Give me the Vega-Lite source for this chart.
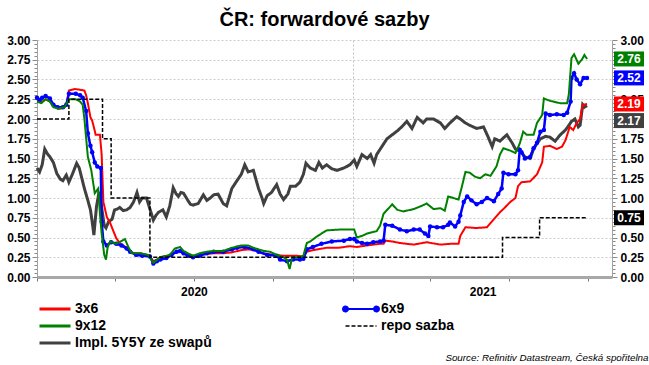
{
"$schema": "https://vega.github.io/schema/vega-lite/v6.json",
"autosize": {"type": "none"},
"padding": {"left": 37, "top": 40, "right": 37, "bottom": 88},
"width": 575,
"height": 237,
"background": "white",
"title": {"text": "ČR: forwardové sazby", "font": "Liberation Sans", "fontSize": 20, "fontWeight": "bold", "color": "#000000", "anchor": "middle", "frame": "group", "baseline": "alphabetic", "offset": 5, "dy": 17},
"datasets": {"rates": [
{"d":"2020-01-01","s":"Impl. 5Y5Y ze swapů","v":1.38},{"d":"2020-01-04","s":"Impl. 5Y5Y ze swapů","v":1.33},{"d":"2020-01-07","s":"Impl. 5Y5Y ze swapů","v":1.42},{"d":"2020-01-10","s":"Impl. 5Y5Y ze swapů","v":1.62},{"d":"2020-01-13","s":"Impl. 5Y5Y ze swapů","v":1.56},{"d":"2020-01-16","s":"Impl. 5Y5Y ze swapů","v":1.52},{"d":"2020-01-20","s":"Impl. 5Y5Y ze swapů","v":1.45},{"d":"2020-01-24","s":"Impl. 5Y5Y ze swapů","v":1.31},{"d":"2020-01-28","s":"Impl. 5Y5Y ze swapů","v":1.24},{"d":"2020-01-31","s":"Impl. 5Y5Y ze swapů","v":1.22},{"d":"2020-02-04","s":"Impl. 5Y5Y ze swapů","v":1.29},{"d":"2020-02-07","s":"Impl. 5Y5Y ze swapů","v":1.20},{"d":"2020-02-11","s":"Impl. 5Y5Y ze swapů","v":1.30},{"d":"2020-02-16","s":"Impl. 5Y5Y ze swapů","v":1.44},{"d":"2020-02-19","s":"Impl. 5Y5Y ze swapů","v":1.38},{"d":"2020-02-22","s":"Impl. 5Y5Y ze swapů","v":1.25},{"d":"2020-02-25","s":"Impl. 5Y5Y ze swapů","v":1.12},{"d":"2020-02-29","s":"Impl. 5Y5Y ze swapů","v":0.97},{"d":"2020-03-03","s":"Impl. 5Y5Y ze swapů","v":0.85},{"d":"2020-03-05","s":"Impl. 5Y5Y ze swapů","v":0.70},{"d":"2020-03-07","s":"Impl. 5Y5Y ze swapů","v":0.53},{"d":"2020-03-10","s":"Impl. 5Y5Y ze swapů","v":0.89},{"d":"2020-03-13","s":"Impl. 5Y5Y ze swapů","v":1.08},{"d":"2020-03-16","s":"Impl. 5Y5Y ze swapů","v":0.88},{"d":"2020-03-19","s":"Impl. 5Y5Y ze swapů","v":0.65},{"d":"2020-03-21","s":"Impl. 5Y5Y ze swapů","v":0.62},{"d":"2020-03-24","s":"Impl. 5Y5Y ze swapů","v":0.70},{"d":"2020-03-28","s":"Impl. 5Y5Y ze swapů","v":0.73},{"d":"2020-03-31","s":"Impl. 5Y5Y ze swapů","v":0.85},{"d":"2020-04-03","s":"Impl. 5Y5Y ze swapů","v":0.86},{"d":"2020-04-06","s":"Impl. 5Y5Y ze swapů","v":0.88},{"d":"2020-04-10","s":"Impl. 5Y5Y ze swapů","v":0.84},{"d":"2020-04-14","s":"Impl. 5Y5Y ze swapů","v":0.85},{"d":"2020-04-18","s":"Impl. 5Y5Y ze swapů","v":0.88},{"d":"2020-04-22","s":"Impl. 5Y5Y ze swapů","v":0.95},{"d":"2020-04-26","s":"Impl. 5Y5Y ze swapů","v":1.07},{"d":"2020-04-29","s":"Impl. 5Y5Y ze swapů","v":0.95},{"d":"2020-05-02","s":"Impl. 5Y5Y ze swapů","v":1.00},{"d":"2020-05-07","s":"Impl. 5Y5Y ze swapů","v":1.00},{"d":"2020-05-11","s":"Impl. 5Y5Y ze swapů","v":0.86},{"d":"2020-05-15","s":"Impl. 5Y5Y ze swapů","v":0.72},{"d":"2020-05-18","s":"Impl. 5Y5Y ze swapů","v":0.78},{"d":"2020-05-21","s":"Impl. 5Y5Y ze swapů","v":0.82},{"d":"2020-05-26","s":"Impl. 5Y5Y ze swapů","v":0.85},{"d":"2020-05-30","s":"Impl. 5Y5Y ze swapů","v":0.76},{"d":"2020-06-03","s":"Impl. 5Y5Y ze swapů","v":0.90},{"d":"2020-06-07","s":"Impl. 5Y5Y ze swapů","v":1.13},{"d":"2020-06-10","s":"Impl. 5Y5Y ze swapů","v":1.06},{"d":"2020-06-13","s":"Impl. 5Y5Y ze swapů","v":1.02},{"d":"2020-06-16","s":"Impl. 5Y5Y ze swapů","v":1.07},{"d":"2020-06-19","s":"Impl. 5Y5Y ze swapů","v":1.06},{"d":"2020-06-24","s":"Impl. 5Y5Y ze swapů","v":0.97},{"d":"2020-06-27","s":"Impl. 5Y5Y ze swapů","v":0.92},{"d":"2020-06-30","s":"Impl. 5Y5Y ze swapů","v":0.91},{"d":"2020-07-06","s":"Impl. 5Y5Y ze swapů","v":0.93},{"d":"2020-07-12","s":"Impl. 5Y5Y ze swapů","v":1.04},{"d":"2020-07-16","s":"Impl. 5Y5Y ze swapů","v":0.97},{"d":"2020-07-20","s":"Impl. 5Y5Y ze swapů","v":1.00},{"d":"2020-07-24","s":"Impl. 5Y5Y ze swapů","v":1.04},{"d":"2020-07-29","s":"Impl. 5Y5Y ze swapů","v":1.05},{"d":"2020-08-04","s":"Impl. 5Y5Y ze swapů","v":0.93},{"d":"2020-08-08","s":"Impl. 5Y5Y ze swapů","v":0.90},{"d":"2020-08-14","s":"Impl. 5Y5Y ze swapů","v":1.12},{"d":"2020-08-20","s":"Impl. 5Y5Y ze swapů","v":1.22},{"d":"2020-08-25","s":"Impl. 5Y5Y ze swapů","v":1.30},{"d":"2020-08-29","s":"Impl. 5Y5Y ze swapů","v":1.42},{"d":"2020-09-02","s":"Impl. 5Y5Y ze swapů","v":1.33},{"d":"2020-09-08","s":"Impl. 5Y5Y ze swapů","v":1.35},{"d":"2020-09-14","s":"Impl. 5Y5Y ze swapů","v":1.12},{"d":"2020-09-18","s":"Impl. 5Y5Y ze swapů","v":1.00},{"d":"2020-09-20","s":"Impl. 5Y5Y ze swapů","v":0.93},{"d":"2020-09-24","s":"Impl. 5Y5Y ze swapů","v":1.03},{"d":"2020-09-29","s":"Impl. 5Y5Y ze swapů","v":1.07},{"d":"2020-10-05","s":"Impl. 5Y5Y ze swapů","v":1.17},{"d":"2020-10-09","s":"Impl. 5Y5Y ze swapů","v":1.05},{"d":"2020-10-13","s":"Impl. 5Y5Y ze swapů","v":0.98},{"d":"2020-10-18","s":"Impl. 5Y5Y ze swapů","v":1.05},{"d":"2020-10-21","s":"Impl. 5Y5Y ze swapů","v":1.15},{"d":"2020-10-27","s":"Impl. 5Y5Y ze swapů","v":1.15},{"d":"2020-11-01","s":"Impl. 5Y5Y ze swapů","v":1.20},{"d":"2020-11-05","s":"Impl. 5Y5Y ze swapů","v":1.30},{"d":"2020-11-08","s":"Impl. 5Y5Y ze swapů","v":1.44},{"d":"2020-11-13","s":"Impl. 5Y5Y ze swapů","v":1.38},{"d":"2020-11-19","s":"Impl. 5Y5Y ze swapů","v":1.35},{"d":"2020-11-23","s":"Impl. 5Y5Y ze swapů","v":1.45},{"d":"2020-11-27","s":"Impl. 5Y5Y ze swapů","v":1.38},{"d":"2020-12-02","s":"Impl. 5Y5Y ze swapů","v":1.42},{"d":"2020-12-08","s":"Impl. 5Y5Y ze swapů","v":1.37},{"d":"2020-12-14","s":"Impl. 5Y5Y ze swapů","v":1.35},{"d":"2020-12-22","s":"Impl. 5Y5Y ze swapů","v":1.38},{"d":"2020-12-29","s":"Impl. 5Y5Y ze swapů","v":1.42},{"d":"2021-01-03","s":"Impl. 5Y5Y ze swapů","v":1.48},{"d":"2021-01-06","s":"Impl. 5Y5Y ze swapů","v":1.40},{"d":"2021-01-12","s":"Impl. 5Y5Y ze swapů","v":1.55},{"d":"2021-01-18","s":"Impl. 5Y5Y ze swapů","v":1.50},{"d":"2021-01-22","s":"Impl. 5Y5Y ze swapů","v":1.55},{"d":"2021-01-26","s":"Impl. 5Y5Y ze swapů","v":1.44},{"d":"2021-01-29","s":"Impl. 5Y5Y ze swapů","v":1.55},{"d":"2021-02-04","s":"Impl. 5Y5Y ze swapů","v":1.65},{"d":"2021-02-10","s":"Impl. 5Y5Y ze swapů","v":1.75},{"d":"2021-02-16","s":"Impl. 5Y5Y ze swapů","v":1.80},{"d":"2021-02-22","s":"Impl. 5Y5Y ze swapů","v":1.85},{"d":"2021-02-27","s":"Impl. 5Y5Y ze swapů","v":1.90},{"d":"2021-03-05","s":"Impl. 5Y5Y ze swapů","v":1.97},{"d":"2021-03-11","s":"Impl. 5Y5Y ze swapů","v":1.88},{"d":"2021-03-17","s":"Impl. 5Y5Y ze swapů","v":2.02},{"d":"2021-03-24","s":"Impl. 5Y5Y ze swapů","v":1.95},{"d":"2021-03-28","s":"Impl. 5Y5Y ze swapů","v":2.00},{"d":"2021-04-05","s":"Impl. 5Y5Y ze swapů","v":2.00},{"d":"2021-04-13","s":"Impl. 5Y5Y ze swapů","v":1.95},{"d":"2021-04-18","s":"Impl. 5Y5Y ze swapů","v":1.88},{"d":"2021-04-24","s":"Impl. 5Y5Y ze swapů","v":1.95},{"d":"2021-05-02","s":"Impl. 5Y5Y ze swapů","v":2.03},{"d":"2021-05-06","s":"Impl. 5Y5Y ze swapů","v":2.00},{"d":"2021-05-12","s":"Impl. 5Y5Y ze swapů","v":1.95},{"d":"2021-05-17","s":"Impl. 5Y5Y ze swapů","v":1.92},{"d":"2021-05-25","s":"Impl. 5Y5Y ze swapů","v":1.88},{"d":"2021-06-02","s":"Impl. 5Y5Y ze swapů","v":1.90},{"d":"2021-06-07","s":"Impl. 5Y5Y ze swapů","v":1.78},{"d":"2021-06-12","s":"Impl. 5Y5Y ze swapů","v":1.65},{"d":"2021-06-15","s":"Impl. 5Y5Y ze swapů","v":1.75},{"d":"2021-06-21","s":"Impl. 5Y5Y ze swapů","v":1.72},{"d":"2021-06-29","s":"Impl. 5Y5Y ze swapů","v":1.80},{"d":"2021-07-05","s":"Impl. 5Y5Y ze swapů","v":1.70},{"d":"2021-07-09","s":"Impl. 5Y5Y ze swapů","v":1.62},{"d":"2021-07-13","s":"Impl. 5Y5Y ze swapů","v":1.60},{"d":"2021-07-16","s":"Impl. 5Y5Y ze swapů","v":1.58},{"d":"2021-07-20","s":"Impl. 5Y5Y ze swapů","v":1.52},{"d":"2021-07-26","s":"Impl. 5Y5Y ze swapů","v":1.50},{"d":"2021-07-30","s":"Impl. 5Y5Y ze swapů","v":1.62},{"d":"2021-08-03","s":"Impl. 5Y5Y ze swapů","v":1.69},{"d":"2021-08-07","s":"Impl. 5Y5Y ze swapů","v":1.75},{"d":"2021-08-13","s":"Impl. 5Y5Y ze swapů","v":1.78},{"d":"2021-08-18","s":"Impl. 5Y5Y ze swapů","v":1.77},{"d":"2021-08-24","s":"Impl. 5Y5Y ze swapů","v":1.72},{"d":"2021-08-30","s":"Impl. 5Y5Y ze swapů","v":1.80},{"d":"2021-09-05","s":"Impl. 5Y5Y ze swapů","v":1.86},{"d":"2021-09-09","s":"Impl. 5Y5Y ze swapů","v":1.92},{"d":"2021-09-12","s":"Impl. 5Y5Y ze swapů","v":1.97},{"d":"2021-09-16","s":"Impl. 5Y5Y ze swapů","v":2.00},{"d":"2021-09-20","s":"Impl. 5Y5Y ze swapů","v":1.90},{"d":"2021-09-22","s":"Impl. 5Y5Y ze swapů","v":1.92},{"d":"2021-09-25","s":"Impl. 5Y5Y ze swapů","v":2.18},{"d":"2021-09-27","s":"Impl. 5Y5Y ze swapů","v":2.15},{"d":"2021-09-30","s":"Impl. 5Y5Y ze swapů","v":2.17},
{"d":"2020-01-01","s":"3x6","v":2.24},{"d":"2020-01-07","s":"3x6","v":2.22},{"d":"2020-01-11","s":"3x6","v":2.25},{"d":"2020-01-16","s":"3x6","v":2.22},{"d":"2020-01-21","s":"3x6","v":2.16},{"d":"2020-01-26","s":"3x6","v":2.13},{"d":"2020-02-01","s":"3x6","v":2.14},{"d":"2020-02-04","s":"3x6","v":2.17},{"d":"2020-02-07","s":"3x6","v":2.36},{"d":"2020-02-14","s":"3x6","v":2.38},{"d":"2020-02-20","s":"3x6","v":2.37},{"d":"2020-02-25","s":"3x6","v":2.36},{"d":"2020-02-27","s":"3x6","v":2.30},{"d":"2020-02-29","s":"3x6","v":2.20},{"d":"2020-03-03","s":"3x6","v":2.02},{"d":"2020-03-05","s":"3x6","v":1.98},{"d":"2020-03-08","s":"3x6","v":1.85},{"d":"2020-03-09","s":"3x6","v":1.80},{"d":"2020-03-14","s":"3x6","v":1.80},{"d":"2020-03-16","s":"3x6","v":1.55},{"d":"2020-03-18","s":"3x6","v":0.95},{"d":"2020-03-22","s":"3x6","v":0.76},{"d":"2020-03-26","s":"3x6","v":0.68},{"d":"2020-03-30","s":"3x6","v":0.57},{"d":"2020-04-02","s":"3x6","v":0.49},{"d":"2020-04-06","s":"3x6","v":0.43},{"d":"2020-04-10","s":"3x6","v":0.40},{"d":"2020-04-14","s":"3x6","v":0.37},{"d":"2020-04-18","s":"3x6","v":0.32},{"d":"2020-04-22","s":"3x6","v":0.30},{"d":"2020-04-30","s":"3x6","v":0.30},{"d":"2020-05-07","s":"3x6","v":0.28},{"d":"2020-05-11","s":"3x6","v":0.26},{"d":"2020-05-15","s":"3x6","v":0.20},{"d":"2020-05-19","s":"3x6","v":0.22},{"d":"2020-05-23","s":"3x6","v":0.25},{"d":"2020-05-30","s":"3x6","v":0.26},{"d":"2020-06-07","s":"3x6","v":0.30},{"d":"2020-06-14","s":"3x6","v":0.33},{"d":"2020-06-19","s":"3x6","v":0.30},{"d":"2020-06-27","s":"3x6","v":0.27},{"d":"2020-07-04","s":"3x6","v":0.27},{"d":"2020-07-14","s":"3x6","v":0.29},{"d":"2020-07-24","s":"3x6","v":0.30},{"d":"2020-08-03","s":"3x6","v":0.30},{"d":"2020-08-13","s":"3x6","v":0.31},{"d":"2020-08-25","s":"3x6","v":0.34},{"d":"2020-09-02","s":"3x6","v":0.35},{"d":"2020-09-09","s":"3x6","v":0.34},{"d":"2020-09-19","s":"3x6","v":0.30},{"d":"2020-10-02","s":"3x6","v":0.28},{"d":"2020-10-12","s":"3x6","v":0.27},{"d":"2020-10-27","s":"3x6","v":0.27},{"d":"2020-11-05","s":"3x6","v":0.26},{"d":"2020-11-09","s":"3x6","v":0.32},{"d":"2020-11-16","s":"3x6","v":0.34},{"d":"2020-12-02","s":"3x6","v":0.37},{"d":"2020-12-16","s":"3x6","v":0.37},{"d":"2020-12-29","s":"3x6","v":0.39},{"d":"2021-01-06","s":"3x6","v":0.38},{"d":"2021-01-18","s":"3x6","v":0.40},{"d":"2021-02-02","s":"3x6","v":0.42},{"d":"2021-02-06","s":"3x6","v":0.42},{"d":"2021-02-08","s":"3x6","v":0.46},{"d":"2021-02-16","s":"3x6","v":0.45},{"d":"2021-02-25","s":"3x6","v":0.43},{"d":"2021-03-13","s":"3x6","v":0.41},{"d":"2021-03-28","s":"3x6","v":0.44},{"d":"2021-04-13","s":"3x6","v":0.41},{"d":"2021-04-24","s":"3x6","v":0.42},{"d":"2021-05-04","s":"3x6","v":0.42},{"d":"2021-05-06","s":"3x6","v":0.52},{"d":"2021-05-12","s":"3x6","v":0.63},{"d":"2021-05-25","s":"3x6","v":0.62},{"d":"2021-06-06","s":"3x6","v":0.63},{"d":"2021-06-13","s":"3x6","v":0.72},{"d":"2021-06-21","s":"3x6","v":0.82},{"d":"2021-06-25","s":"3x6","v":0.86},{"d":"2021-07-03","s":"3x6","v":0.95},{"d":"2021-07-09","s":"3x6","v":1.00},{"d":"2021-07-12","s":"3x6","v":1.15},{"d":"2021-07-16","s":"3x6","v":1.20},{"d":"2021-07-26","s":"3x6","v":1.21},{"d":"2021-08-03","s":"3x6","v":1.30},{"d":"2021-08-09","s":"3x6","v":1.45},{"d":"2021-08-11","s":"3x6","v":1.65},{"d":"2021-08-18","s":"3x6","v":1.66},{"d":"2021-08-26","s":"3x6","v":1.62},{"d":"2021-09-01","s":"3x6","v":1.65},{"d":"2021-09-05","s":"3x6","v":1.73},{"d":"2021-09-10","s":"3x6","v":1.90},{"d":"2021-09-14","s":"3x6","v":1.86},{"d":"2021-09-18","s":"3x6","v":1.95},{"d":"2021-09-22","s":"3x6","v":2.00},{"d":"2021-09-25","s":"3x6","v":2.18},{"d":"2021-09-30","s":"3x6","v":2.19},
{"d":"2020-01-01","s":"6x9","v":2.27},{"d":"2020-01-04","s":"6x9","v":2.24},{"d":"2020-01-07","s":"6x9","v":2.27},{"d":"2020-01-11","s":"6x9","v":2.29},{"d":"2020-01-16","s":"6x9","v":2.26},{"d":"2020-01-20","s":"6x9","v":2.18},{"d":"2020-01-25","s":"6x9","v":2.15},{"d":"2020-01-31","s":"6x9","v":2.15},{"d":"2020-02-04","s":"6x9","v":2.18},{"d":"2020-02-07","s":"6x9","v":2.32},{"d":"2020-02-15","s":"6x9","v":2.32},{"d":"2020-02-20","s":"6x9","v":2.30},{"d":"2020-02-23","s":"6x9","v":2.27},{"d":"2020-02-27","s":"6x9","v":2.10},{"d":"2020-02-29","s":"6x9","v":1.82},{"d":"2020-03-03","s":"6x9","v":1.66},{"d":"2020-03-05","s":"6x9","v":1.58},{"d":"2020-03-08","s":"6x9","v":1.45},{"d":"2020-03-11","s":"6x9","v":1.40},{"d":"2020-03-15","s":"6x9","v":1.38},{"d":"2020-03-16","s":"6x9","v":0.70},{"d":"2020-03-18","s":"6x9","v":0.45},{"d":"2020-03-22","s":"6x9","v":0.40},{"d":"2020-03-27","s":"6x9","v":0.44},{"d":"2020-04-02","s":"6x9","v":0.42},{"d":"2020-04-08","s":"6x9","v":0.40},{"d":"2020-04-14","s":"6x9","v":0.36},{"d":"2020-04-18","s":"6x9","v":0.32},{"d":"2020-04-25","s":"6x9","v":0.28},{"d":"2020-05-02","s":"6x9","v":0.27},{"d":"2020-05-11","s":"6x9","v":0.26},{"d":"2020-05-15","s":"6x9","v":0.17},{"d":"2020-05-19","s":"6x9","v":0.20},{"d":"2020-05-23","s":"6x9","v":0.22},{"d":"2020-05-30","s":"6x9","v":0.24},{"d":"2020-06-05","s":"6x9","v":0.28},{"d":"2020-06-11","s":"6x9","v":0.32},{"d":"2020-06-15","s":"6x9","v":0.33},{"d":"2020-06-19","s":"6x9","v":0.30},{"d":"2020-06-24","s":"6x9","v":0.27},{"d":"2020-06-30","s":"6x9","v":0.25},{"d":"2020-07-08","s":"6x9","v":0.27},{"d":"2020-07-16","s":"6x9","v":0.30},{"d":"2020-07-24","s":"6x9","v":0.32},{"d":"2020-08-04","s":"6x9","v":0.32},{"d":"2020-08-14","s":"6x9","v":0.35},{"d":"2020-08-20","s":"6x9","v":0.37},{"d":"2020-08-29","s":"6x9","v":0.38},{"d":"2020-09-08","s":"6x9","v":0.35},{"d":"2020-09-14","s":"6x9","v":0.32},{"d":"2020-09-24","s":"6x9","v":0.28},{"d":"2020-10-05","s":"6x9","v":0.27},{"d":"2020-10-09","s":"6x9","v":0.22},{"d":"2020-10-17","s":"6x9","v":0.20},{"d":"2020-10-24","s":"6x9","v":0.22},{"d":"2020-11-01","s":"6x9","v":0.22},{"d":"2020-11-05","s":"6x9","v":0.23},{"d":"2020-11-09","s":"6x9","v":0.35},{"d":"2020-11-16","s":"6x9","v":0.38},{"d":"2020-11-26","s":"6x9","v":0.42},{"d":"2020-12-08","s":"6x9","v":0.45},{"d":"2020-12-22","s":"6x9","v":0.46},{"d":"2020-12-29","s":"6x9","v":0.48},{"d":"2021-01-03","s":"6x9","v":0.48},{"d":"2021-01-06","s":"6x9","v":0.45},{"d":"2021-01-12","s":"6x9","v":0.43},{"d":"2021-01-18","s":"6x9","v":0.42},{"d":"2021-01-25","s":"6x9","v":0.44},{"d":"2021-02-02","s":"6x9","v":0.45},{"d":"2021-02-06","s":"6x9","v":0.46},{"d":"2021-02-08","s":"6x9","v":0.66},{"d":"2021-02-16","s":"6x9","v":0.65},{"d":"2021-02-25","s":"6x9","v":0.60},{"d":"2021-03-05","s":"6x9","v":0.58},{"d":"2021-03-13","s":"6x9","v":0.60},{"d":"2021-03-20","s":"6x9","v":0.60},{"d":"2021-03-26","s":"6x9","v":0.55},{"d":"2021-03-30","s":"6x9","v":0.52},{"d":"2021-04-01","s":"6x9","v":0.64},{"d":"2021-04-09","s":"6x9","v":0.63},{"d":"2021-04-16","s":"6x9","v":0.63},{"d":"2021-04-22","s":"6x9","v":0.66},{"d":"2021-04-24","s":"6x9","v":0.69},{"d":"2021-04-30","s":"6x9","v":0.64},{"d":"2021-05-04","s":"6x9","v":0.70},{"d":"2021-05-06","s":"6x9","v":0.78},{"d":"2021-05-10","s":"6x9","v":0.95},{"d":"2021-05-14","s":"6x9","v":1.02},{"d":"2021-05-19","s":"6x9","v":0.97},{"d":"2021-05-25","s":"6x9","v":0.92},{"d":"2021-05-31","s":"6x9","v":0.95},{"d":"2021-06-06","s":"6x9","v":1.00},{"d":"2021-06-14","s":"6x9","v":0.96},{"d":"2021-06-19","s":"6x9","v":1.05},{"d":"2021-06-23","s":"6x9","v":1.12},{"d":"2021-06-25","s":"6x9","v":1.32},{"d":"2021-07-01","s":"6x9","v":1.30},{"d":"2021-07-09","s":"6x9","v":1.30},{"d":"2021-07-12","s":"6x9","v":1.35},{"d":"2021-07-14","s":"6x9","v":1.61},{"d":"2021-07-16","s":"6x9","v":1.58},{"d":"2021-07-20","s":"6x9","v":1.50},{"d":"2021-07-26","s":"6x9","v":1.52},{"d":"2021-07-30","s":"6x9","v":1.63},{"d":"2021-08-03","s":"6x9","v":1.70},{"d":"2021-08-07","s":"6x9","v":1.84},{"d":"2021-08-11","s":"6x9","v":1.86},{"d":"2021-08-13","s":"6x9","v":2.07},{"d":"2021-08-18","s":"6x9","v":2.05},{"d":"2021-08-26","s":"6x9","v":2.06},{"d":"2021-09-03","s":"6x9","v":2.05},{"d":"2021-09-07","s":"6x9","v":2.08},{"d":"2021-09-11","s":"6x9","v":2.22},{"d":"2021-09-12","s":"6x9","v":2.52},{"d":"2021-09-15","s":"6x9","v":2.58},{"d":"2021-09-18","s":"6x9","v":2.50},{"d":"2021-09-22","s":"6x9","v":2.44},{"d":"2021-09-26","s":"6x9","v":2.52},{"d":"2021-09-30","s":"6x9","v":2.52},
{"d":"2020-01-01","s":"9x12","v":2.22},{"d":"2020-01-06","s":"9x12","v":2.20},{"d":"2020-01-11","s":"9x12","v":2.25},{"d":"2020-01-16","s":"9x12","v":2.22},{"d":"2020-01-20","s":"9x12","v":2.15},{"d":"2020-01-26","s":"9x12","v":2.13},{"d":"2020-02-02","s":"9x12","v":2.15},{"d":"2020-02-07","s":"9x12","v":2.25},{"d":"2020-02-15","s":"9x12","v":2.25},{"d":"2020-02-20","s":"9x12","v":2.22},{"d":"2020-02-23","s":"9x12","v":2.18},{"d":"2020-02-25","s":"9x12","v":2.00},{"d":"2020-02-29","s":"9x12","v":1.52},{"d":"2020-03-04","s":"9x12","v":1.35},{"d":"2020-03-08","s":"9x12","v":1.06},{"d":"2020-03-12","s":"9x12","v":1.12},{"d":"2020-03-14","s":"9x12","v":0.80},{"d":"2020-03-16","s":"9x12","v":0.55},{"d":"2020-03-19","s":"9x12","v":0.28},{"d":"2020-03-21","s":"9x12","v":0.22},{"d":"2020-03-23","s":"9x12","v":0.38},{"d":"2020-03-26","s":"9x12","v":0.45},{"d":"2020-04-02","s":"9x12","v":0.42},{"d":"2020-04-07","s":"9x12","v":0.45},{"d":"2020-04-12","s":"9x12","v":0.48},{"d":"2020-04-16","s":"9x12","v":0.38},{"d":"2020-04-20","s":"9x12","v":0.30},{"d":"2020-04-30","s":"9x12","v":0.30},{"d":"2020-05-09","s":"9x12","v":0.28},{"d":"2020-05-15","s":"9x12","v":0.18},{"d":"2020-05-23","s":"9x12","v":0.25},{"d":"2020-06-03","s":"9x12","v":0.28},{"d":"2020-06-09","s":"9x12","v":0.36},{"d":"2020-06-15","s":"9x12","v":0.38},{"d":"2020-06-19","s":"9x12","v":0.33},{"d":"2020-06-24","s":"9x12","v":0.30},{"d":"2020-06-30","s":"9x12","v":0.27},{"d":"2020-07-08","s":"9x12","v":0.30},{"d":"2020-07-16","s":"9x12","v":0.32},{"d":"2020-07-24","s":"9x12","v":0.33},{"d":"2020-08-04","s":"9x12","v":0.33},{"d":"2020-08-14","s":"9x12","v":0.37},{"d":"2020-08-25","s":"9x12","v":0.40},{"d":"2020-09-02","s":"9x12","v":0.40},{"d":"2020-09-08","s":"9x12","v":0.37},{"d":"2020-09-14","s":"9x12","v":0.35},{"d":"2020-09-20","s":"9x12","v":0.33},{"d":"2020-09-27","s":"9x12","v":0.32},{"d":"2020-10-05","s":"9x12","v":0.28},{"d":"2020-10-13","s":"9x12","v":0.25},{"d":"2020-10-17","s":"9x12","v":0.22},{"d":"2020-10-20","s":"9x12","v":0.10},{"d":"2020-10-23","s":"9x12","v":0.25},{"d":"2020-11-01","s":"9x12","v":0.25},{"d":"2020-11-05","s":"9x12","v":0.27},{"d":"2020-11-09","s":"9x12","v":0.43},{"d":"2020-11-13","s":"9x12","v":0.45},{"d":"2020-11-19","s":"9x12","v":0.50},{"d":"2020-11-26","s":"9x12","v":0.55},{"d":"2020-12-02","s":"9x12","v":0.59},{"d":"2020-12-16","s":"9x12","v":0.60},{"d":"2020-12-29","s":"9x12","v":0.60},{"d":"2021-01-03","s":"9x12","v":0.60},{"d":"2021-01-06","s":"9x12","v":0.50},{"d":"2021-01-12","s":"9x12","v":0.52},{"d":"2021-01-18","s":"9x12","v":0.55},{"d":"2021-01-29","s":"9x12","v":0.58},{"d":"2021-02-02","s":"9x12","v":0.65},{"d":"2021-02-06","s":"9x12","v":0.80},{"d":"2021-02-16","s":"9x12","v":0.92},{"d":"2021-02-22","s":"9x12","v":0.85},{"d":"2021-03-01","s":"9x12","v":0.83},{"d":"2021-03-13","s":"9x12","v":0.86},{"d":"2021-03-20","s":"9x12","v":0.89},{"d":"2021-03-28","s":"9x12","v":0.93},{"d":"2021-04-05","s":"9x12","v":0.86},{"d":"2021-04-13","s":"9x12","v":0.87},{"d":"2021-04-18","s":"9x12","v":0.84},{"d":"2021-04-22","s":"9x12","v":1.02},{"d":"2021-04-28","s":"9x12","v":1.00},{"d":"2021-05-04","s":"9x12","v":0.98},{"d":"2021-05-08","s":"9x12","v":1.15},{"d":"2021-05-12","s":"9x12","v":1.33},{"d":"2021-05-17","s":"9x12","v":1.32},{"d":"2021-05-23","s":"9x12","v":1.27},{"d":"2021-05-29","s":"9x12","v":1.25},{"d":"2021-06-04","s":"9x12","v":1.30},{"d":"2021-06-10","s":"9x12","v":1.28},{"d":"2021-06-17","s":"9x12","v":1.40},{"d":"2021-06-21","s":"9x12","v":1.55},{"d":"2021-06-25","s":"9x12","v":1.63},{"d":"2021-07-03","s":"9x12","v":1.60},{"d":"2021-07-09","s":"9x12","v":1.57},{"d":"2021-07-14","s":"9x12","v":1.69},{"d":"2021-07-18","s":"9x12","v":1.84},{"d":"2021-07-22","s":"9x12","v":1.80},{"d":"2021-07-30","s":"9x12","v":1.80},{"d":"2021-08-03","s":"9x12","v":1.95},{"d":"2021-08-09","s":"9x12","v":2.05},{"d":"2021-08-11","s":"9x12","v":2.26},{"d":"2021-08-18","s":"9x12","v":2.23},{"d":"2021-08-30","s":"9x12","v":2.20},{"d":"2021-09-07","s":"9x12","v":2.20},{"d":"2021-09-09","s":"9x12","v":2.32},{"d":"2021-09-12","s":"9x12","v":2.77},{"d":"2021-09-15","s":"9x12","v":2.82},{"d":"2021-09-20","s":"9x12","v":2.70},{"d":"2021-09-24","s":"9x12","v":2.75},{"d":"2021-09-27","s":"9x12","v":2.81},{"d":"2021-09-30","s":"9x12","v":2.76},
{"d":"2020-01-01","s":"repo sazba","v":2.00},{"d":"2020-02-07","s":"repo sazba","v":2.25},{"d":"2020-03-17","s":"repo sazba","v":1.75},{"d":"2020-03-27","s":"repo sazba","v":1.00},{"d":"2020-05-11","s":"repo sazba","v":0.25},{"d":"2021-06-24","s":"repo sazba","v":0.50},{"d":"2021-08-06","s":"repo sazba","v":0.75},{"d":"2021-09-30","s":"repo sazba","v":0.75}
]},
"data": {"name": "rates"},
"encoding": {
  "x": {"field": "d", "type": "temporal",
    "scale": {"domain": [{"year": 2020, "month": 1, "date": 1}, {"year": 2021, "month": 10, "date": 29}]},
    "axis": {
      "title": "Source: Refinitiv Datastream, Česká spořitelna",
      "titleFont": "Liberation Sans", "titleFontSize": 9.8, "titleFontStyle": "italic", "titleFontWeight": "normal", "titleColor": "#000000",
      "titleX": 611, "titleY": 83, "titleAlign": "right", "titleAnchor": "end", "titleBaseline": "alphabetic",
      "values": [{"year": 2020, "month": 1, "date": 1}, {"year": 2020, "month": 4, "date": 1}, {"year": 2020, "month": 7, "date": 1}, {"year": 2020, "month": 10, "date": 1}, {"year": 2021, "month": 1, "date": 1}, {"year": 2021, "month": 4, "date": 1}, {"year": 2021, "month": 6, "date": 1}, {"year": 2021, "month": 7, "date": 1}, {"year": 2021, "month": 10, "date": 1}],
      "labelExpr": "(year(datum.value) == 2020 && month(datum.value) == 6) ? '2020' : ((year(datum.value) == 2021 && month(datum.value) == 5) ? '2021' : '')",
      "labelFont": "Liberation Sans", "labelFontSize": 12, "labelFontWeight": "bold", "labelColor": "#000000", "labelPadding": 5, "labelOverlap": false, "labelBound": false, "labelFlush": false,
      "tickSize": 4, "tickColor": "#777777",
      "tickOpacity": {"condition": {"test": "year(datum.value) == 2021 && month(datum.value) == 5", "value": 0}, "value": 1},
      "domainColor": "#a8a8a8", "domainWidth": 3,
      "grid": true, "gridColor": "#c4c4c4", "gridDash": [2, 2],
      "gridOpacity": {"condition": {"test": "year(datum.value) == 2021 && month(datum.value) == 0", "value": 1}, "value": 0}
    }
  },
  "y": {"field": "v", "type": "quantitative", "scale": {"domain": [0, 3], "nice": false, "zero": false}, "axis": null}
},
"layer": [
  {
    "transform": [{"filter": "datum.s === 'Impl. 5Y5Y ze swapů'"}],
    "mark": {"type": "line", "strokeWidth": 3},
    "encoding": {
      "y": {"field": "v", "type": "quantitative", "scale": {"domain": [0, 3], "nice": false, "zero": false},
        "axis": {"orient": "left", "title": null,
          "values": [0,0.05,0.1,0.15,0.2,0.25,0.3,0.35,0.4,0.45,0.5,0.55,0.6,0.65,0.7,0.75,0.8,0.85,0.9,0.95,1,1.05,1.1,1.15,1.2,1.25,1.3,1.35,1.4,1.45,1.5,1.55,1.6,1.65,1.7,1.75,1.8,1.85,1.9,1.95,2,2.05,2.1,2.15,2.2,2.25,2.3,2.35,2.4,2.45,2.5,2.55,2.6,2.65,2.7,2.75,2.8,2.85,2.9,2.95,3],
          "labelExpr": "abs(datum.value * 4 - round(datum.value * 4)) < 0.001 ? format(datum.value, '.2f') : ''",
          "labelFont": "Liberation Sans", "labelFontSize": 12, "labelFontWeight": "bold", "labelColor": "#000000", "labelPadding": 2, "labelOverlap": false, "labelBound": false, "labelFlush": false,
          "tickSize": {"condition": {"test": "abs(datum.value * 4 - round(datum.value * 4)) < 0.001", "value": 5}, "value": 3},
          "tickColor": "#8a8a8a", "domainColor": "#a0a0a0",
          "grid": true, "gridColor": "#cccccc", "gridDash": [2, 2],
          "gridOpacity": {"condition": {"test": "abs(datum.value * 4 - round(datum.value * 4)) < 0.001 && datum.value > 0", "value": 1}, "value": 0}
        }
      },
      "color": {"field": "s", "type": "nominal",
        "scale": {"domain": ["3x6", "6x9", "9x12", "repo sazba", "Impl. 5Y5Y ze swapů"], "range": ["#ff0000", "#0000ff", "#008000", "#000000", "#404040"]},
        "legend": {"orient": "none", "legendX": 11, "legendY": 262, "columns": 2, "direction": "horizontal", "title": null, "padding": 0,
          "symbolType": "stroke", "symbolSize": 961, "symbolStrokeWidth": 3,
          "labelFont": "Liberation Sans", "labelFontSize": 14, "labelFontWeight": "bold", "labelColor": "#000000", "labelLimit": 300,
          "labelOffset": 13, "columnPadding": 127, "rowPadding": 3,
          "encode": {"symbols": {"update": {
            "shape": {"signal": "datum.value === '6x9' ? 'M-1,0H1M-0.84,0A0.16,0.16,0,1,1,-1.16,0A0.16,0.16,0,1,1,-0.84,0ZM1.16,0A0.16,0.16,0,1,1,0.84,0A0.16,0.16,0,1,1,1.16,0Z' : 'stroke'"},
            "fill": {"signal": "datum.value === '6x9' ? '#0000ff' : 'transparent'"},
            "strokeWidth": {"signal": "datum.value === 'repo sazba' ? 1.5 : (datum.value === '6x9' ? 2 : 3)"}
          }}}
        }
      },
      "strokeDash": {"field": "s", "type": "nominal",
        "scale": {"domain": ["3x6", "6x9", "9x12", "repo sazba", "Impl. 5Y5Y ze swapů"], "range": [[1, 0], [1, 0], [1, 0], [4, 2], [1, 0]]}}
    }
  },
  {
    "transform": [{"filter": "datum.s === '3x6'"}],
    "mark": {"type": "line", "strokeWidth": 2},
    "encoding": {
      "color": {"field": "s", "type": "nominal", "scale": {"domain": ["3x6", "6x9", "9x12", "repo sazba", "Impl. 5Y5Y ze swapů"], "range": ["#ff0000", "#0000ff", "#008000", "#000000", "#404040"]}},
      "strokeDash": {"field": "s", "type": "nominal", "scale": {"domain": ["3x6", "6x9", "9x12", "repo sazba", "Impl. 5Y5Y ze swapů"], "range": [[1, 0], [1, 0], [1, 0], [4, 2], [1, 0]]}}
    }
  },
  {
    "transform": [{"filter": "datum.s === '6x9'"}],
    "mark": {"type": "line", "strokeWidth": 2.5},
    "encoding": {
      "color": {"field": "s", "type": "nominal", "scale": {"domain": ["3x6", "6x9", "9x12", "repo sazba", "Impl. 5Y5Y ze swapů"], "range": ["#ff0000", "#0000ff", "#008000", "#000000", "#404040"]}},
      "strokeDash": {"field": "s", "type": "nominal", "scale": {"domain": ["3x6", "6x9", "9x12", "repo sazba", "Impl. 5Y5Y ze swapů"], "range": [[1, 0], [1, 0], [1, 0], [4, 2], [1, 0]]}}
    }
  },
  {
    "transform": [{"filter": "datum.s === '6x9'"}],
    "mark": {"type": "point", "filled": true, "size": 20, "opacity": 1, "color": "#0000ff"},
    "encoding": {
      "y": {"field": "v", "type": "quantitative", "scale": {"domain": [0, 3], "nice": false, "zero": false},
        "axis": {"orient": "right", "title": null,
          "values": [0,0.05,0.1,0.15,0.2,0.25,0.3,0.35,0.4,0.45,0.5,0.55,0.6,0.65,0.7,0.75,0.8,0.85,0.9,0.95,1,1.05,1.1,1.15,1.2,1.25,1.3,1.35,1.4,1.45,1.5,1.55,1.6,1.65,1.7,1.75,1.8,1.85,1.9,1.95,2,2.05,2.1,2.15,2.2,2.25,2.3,2.35,2.4,2.45,2.5,2.55,2.6,2.65,2.7,2.75,2.8,2.85,2.9,2.95,3],
          "labelExpr": "abs(datum.value * 4 - round(datum.value * 4)) < 0.001 ? format(datum.value, '.2f') : ''",
          "labelFont": "Liberation Sans", "labelFontSize": 12, "labelFontWeight": "bold", "labelColor": "#000000", "labelPadding": 3, "labelOverlap": false, "labelBound": false, "labelFlush": false,
          "tickSize": {"condition": {"test": "abs(datum.value * 4 - round(datum.value * 4)) < 0.001", "value": 5}, "value": 3},
          "tickColor": "#8a8a8a", "domainColor": "#a0a0a0", "grid": false
        }
      }
    }
  },
  {
    "transform": [{"filter": "datum.s === '9x12'"}],
    "mark": {"type": "line", "strokeWidth": 2},
    "encoding": {
      "color": {"field": "s", "type": "nominal", "scale": {"domain": ["3x6", "6x9", "9x12", "repo sazba", "Impl. 5Y5Y ze swapů"], "range": ["#ff0000", "#0000ff", "#008000", "#000000", "#404040"]}},
      "strokeDash": {"field": "s", "type": "nominal", "scale": {"domain": ["3x6", "6x9", "9x12", "repo sazba", "Impl. 5Y5Y ze swapů"], "range": [[1, 0], [1, 0], [1, 0], [4, 2], [1, 0]]}}
    }
  },
  {
    "transform": [{"filter": "datum.s === 'repo sazba'"}],
    "mark": {"type": "line", "strokeWidth": 1.5, "interpolate": "step-after"},
    "encoding": {
      "color": {"field": "s", "type": "nominal", "scale": {"domain": ["3x6", "6x9", "9x12", "repo sazba", "Impl. 5Y5Y ze swapů"], "range": ["#ff0000", "#0000ff", "#008000", "#000000", "#404040"]}},
      "strokeDash": {"field": "s", "type": "nominal", "scale": {"domain": ["3x6", "6x9", "9x12", "repo sazba", "Impl. 5Y5Y ze swapů"], "range": [[1, 0], [1, 0], [1, 0], [4, 2], [1, 0]]}}
    }
  },
  {
    "transform": [
      {"joinaggregate": [{"op": "max", "field": "d", "as": "dmax"}], "groupby": ["s"]},
      {"filter": "datum.d === datum.dmax && datum.s !== 'Impl. 5Y5Y ze swapů'"}
    ],
    "mark": {"type": "point", "shape": "M-1,-0.5H1V0.5H-1Z", "size": 900, "filled": true, "opacity": 1, "strokeWidth": 0, "xOffset": 42},
    "encoding": {
      "fill": {"field": "s", "type": "nominal", "scale": {"domain": ["3x6", "6x9", "9x12", "repo sazba", "Impl. 5Y5Y ze swapů"], "range": ["#ff0000", "#0000ff", "#008000", "#000000", "#404040"]}, "legend": null}
    }
  },
  {
    "transform": [
      {"joinaggregate": [{"op": "max", "field": "d", "as": "dmax"}], "groupby": ["s"]},
      {"filter": "datum.d === datum.dmax && datum.s === 'Impl. 5Y5Y ze swapů'"}
    ],
    "mark": {"type": "point", "shape": "M-1,-0.5H1V0.5H-1Z", "size": 900, "filled": true, "opacity": 1, "strokeWidth": 0, "xOffset": 42, "yOffset": 15, "fill": "#404040"},
    "encoding": {}
  },
  {
    "transform": [
      {"joinaggregate": [{"op": "max", "field": "d", "as": "dmax"}], "groupby": ["s"]},
      {"filter": "datum.d === datum.dmax && datum.s !== 'Impl. 5Y5Y ze swapů'"}
    ],
    "mark": {"type": "text", "xOffset": 42, "font": "Liberation Sans", "fontSize": 12, "fontWeight": "bold", "fill": "#ffffff", "align": "center", "baseline": "middle"},
    "encoding": {"text": {"field": "v", "type": "quantitative", "format": ".2f"}}
  },
  {
    "transform": [
      {"joinaggregate": [{"op": "max", "field": "d", "as": "dmax"}], "groupby": ["s"]},
      {"filter": "datum.d === datum.dmax && datum.s === 'Impl. 5Y5Y ze swapů'"}
    ],
    "mark": {"type": "text", "xOffset": 42, "yOffset": 15, "font": "Liberation Sans", "fontSize": 12, "fontWeight": "bold", "fill": "#ffffff", "align": "center", "baseline": "middle"},
    "encoding": {"text": {"field": "v", "type": "quantitative", "format": ".2f"}}
  }
],
"resolve": {"axis": {"y": "independent"}},
"config": {"view": {"stroke": null}, "font": "Liberation Sans"}
}
